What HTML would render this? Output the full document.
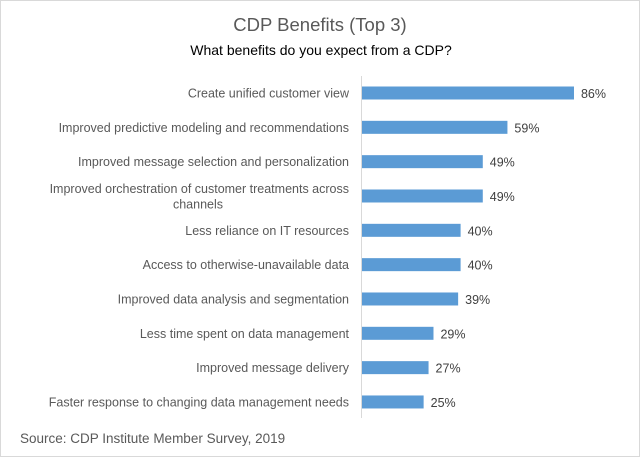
<!DOCTYPE html>
<html><head><meta charset="utf-8"><style>
html,body{margin:0;padding:0;background:#fff}
svg{display:block;font-family:"Liberation Sans",sans-serif}
</style></head><body>
<svg width="640" height="458" viewBox="0 0 640 458">
<rect x="0.5" y="0.5" width="639" height="456" fill="#fff" stroke="#d9d9d9"/>
<text x="320" y="31" text-anchor="middle" font-size="18.5" fill="#595959">CDP Benefits (Top 3)</text>
<text x="321" y="55" text-anchor="middle" font-size="14" fill="#000">What benefits do you expect from a CDP?</text>
<line x1="361.5" y1="76" x2="361.5" y2="418" stroke="#d9d9d9"/>
<g id="bars"></g>
<text x="20" y="443" font-size="13.5" fill="#595959">Source: CDP Institute Member Survey, 2019</text>
</svg>
<script>
const categories = [
 ["Create unified customer view"],
 ["Improved predictive modeling and recommendations"],
 ["Improved message selection and personalization"],
 ["Improved orchestration of customer treatments across","channels"],
 ["Less reliance on IT resources"],
 ["Access to otherwise-unavailable data"],
 ["Improved data analysis and segmentation"],
 ["Less time spent on data management"],
 ["Improved message delivery"],
 ["Faster response to changing data management needs"]
];
const values = [86,59,49,49,40,40,39,29,27,25];
const valueLabels = ["86%","59%","49%","49%","40%","40%","39%","29%","27%","25%"];
const NS="http://www.w3.org/2000/svg";
const g=document.getElementById('bars');
const x0=362, scale=2.465;
function xS(v){return x0+v*scale;}
function yC(i){return 93+i*34.33;}
values.forEach((v,i)=>{
  const cy=yC(i);
  const r=document.createElementNS(NS,'rect');
  r.setAttribute('x',x0);r.setAttribute('y',cy-6.5);
  r.setAttribute('width',xS(v)-x0);r.setAttribute('height',13);
  r.setAttribute('fill','#5b9bd5');
  
  
  g.appendChild(r);
  const t=document.createElementNS(NS,'text');
  t.setAttribute('x',xS(v)+7);t.setAttribute('y',cy+5);
  t.setAttribute('font-size','12.5');t.setAttribute('fill','#404040');
  t.textContent=valueLabels[i];
  
  
  g.appendChild(t);
  const lines=categories[i];
  lines.forEach((ln,j)=>{
    const c=document.createElementNS(NS,'text');
    const yy= lines.length===1 ? cy+4.5 : cy-3+j*15.5;
    c.setAttribute('x', lines.length===1||j===0 ? 349 : 198);
    c.setAttribute('y',yy);
    c.setAttribute('text-anchor', lines.length===1||j===0 ? 'end':'middle');
    c.setAttribute('font-size','12.5');c.setAttribute('fill','#595959');
    c.textContent=ln;
    
    
    g.appendChild(c);
  });
});
</script>
</body></html>
